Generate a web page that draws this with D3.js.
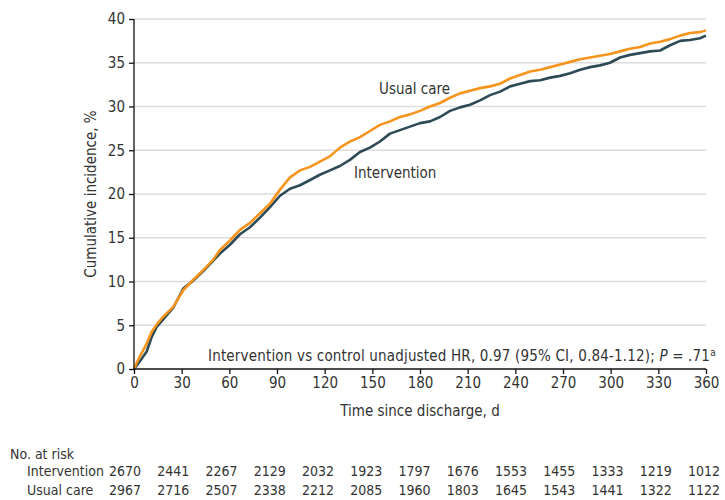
<!DOCTYPE html>
<html>
<head>
<meta charset="utf-8">
<script src="https://cdn.jsdelivr.net/npm/d3@7"></script>
<style>
  html, body { margin: 0; padding: 0; background: #fff; }
  svg { display: block; }
  text { font-family: "DejaVu Sans Condensed", "DejaVu Sans", sans-serif; fill: #333; }
</style>
</head>
<body>
<svg id="chart" width="725" height="500"></svg>
<script>
// ---- Data ----
const usualDays = [0, 3, 8, 11, 14.3, 18.5, 24.7, 31, 37.3, 43.6, 49.9, 54.1, 60.4, 66.7, 73, 79.3, 85.6, 91.9, 98.2, 104.5, 110.8, 117, 123.3, 129.6, 135.9, 142.2, 148.5, 154.8, 161.1, 167.4, 173.7, 180, 186.3, 192.6, 198.9, 205.2, 211.5, 217.8, 224.1, 230.4, 236.7, 243, 249.3, 255.6, 261.9, 268.2, 274.5, 280.8, 287.1, 293.3, 299.6, 305.9, 312.2, 318.5, 324.8, 331.1, 337.4, 343.7, 350, 356.2, 360];
const usualValues = [0, 1.2, 2.9, 4.2, 5.1, 6.0, 7.1, 9.0, 10.2, 11.3, 12.5, 13.6, 14.7, 15.9, 16.7, 17.8, 18.9, 20.5, 21.9, 22.7, 23.1, 23.7, 24.3, 25.3, 26.0, 26.5, 27.2, 27.9, 28.3, 28.8, 29.1, 29.5, 30.0, 30.4, 31.0, 31.5, 31.8, 32.1, 32.3, 32.6, 33.2, 33.6, 34.0, 34.2, 34.5, 34.8, 35.1, 35.4, 35.6, 35.8, 36.0, 36.3, 36.6, 36.8, 37.2, 37.4, 37.7, 38.1, 38.4, 38.5, 38.7];

const interDays = [0, 3, 8, 11, 14.3, 18.5, 24.7, 31, 37.3, 43.6, 49.9, 54.1, 60.4, 66.7, 73, 79.3, 85.6, 91.9, 98.2, 104.5, 110.8, 117, 123.3, 129.6, 135.9, 142.2, 148.5, 154.8, 161.1, 167.4, 173.7, 180, 186.3, 192.6, 198.9, 205.2, 211.5, 217.8, 224.1, 230.4, 236.7, 243, 249.3, 255.6, 261.9, 268.2, 274.5, 280.8, 287.1, 293.3, 299.6, 305.9, 312.2, 318.5, 324.8, 331.1, 337.4, 343.7, 350, 356.2, 360];
const interValues = [0, 0.7, 2.0, 3.6, 4.8, 5.7, 7.0, 9.2, 10.1, 11.2, 12.4, 13.2, 14.2, 15.4, 16.2, 17.3, 18.5, 19.8, 20.6, 21.0, 21.6, 22.2, 22.7, 23.2, 23.9, 24.8, 25.3, 26.0, 26.9, 27.3, 27.7, 28.1, 28.3, 28.8, 29.5, 29.9, 30.2, 30.7, 31.3, 31.7, 32.3, 32.6, 32.9, 33.0, 33.3, 33.5, 33.8, 34.2, 34.5, 34.7, 35.0, 35.6, 35.9, 36.1, 36.3, 36.4, 37.0, 37.5, 37.6, 37.8, 38.1];

const xTicks = [0, 30, 60, 90, 120, 150, 180, 210, 240, 270, 300, 330, 360];
const yTicks = [0, 5, 10, 15, 20, 25, 30, 35, 40];

const riskGroups = ["Intervention", "Usual care"];
const riskIntervention = [2670, 2441, 2267, 2129, 2032, 1923, 1797, 1676, 1553, 1455, 1333, 1219, 1012];
const riskUsual = [2967, 2716, 2507, 2338, 2212, 2085, 1960, 1803, 1645, 1543, 1441, 1322, 1122];

const seriesLabels = ["Usual care", "Intervention"];
const xTitle = "Time since discharge, d";
const yTitle = "Cumulative incidence, %";
const riskTitle = "No. at risk";

// ---- Layout ----
const svg = d3.select("#chart");
const x = d3.scaleLinear().domain([0, 360]).range([134, 706]);
const y = d3.scaleLinear().domain([0, 40]).range([369, 19]);
const orange = "#F7941D";
const teal = "#2D4B56";

// gridlines
svg.append("g").selectAll("line").data(yTicks.filter(d => d > 0)).join("line")
  .attr("x1", x(0)).attr("x2", x(360))
  .attr("y1", d => y(d)).attr("y2", d => y(d))
  .attr("stroke", "#dcdcdc").attr("stroke-width", 1.5);

// curves
const line = d3.line().x(d => x(d[0])).y(d => y(d[1])).curve(d3.curveLinear);
const interData = interDays.map((d, i) => [d, interValues[i]]);
const usualData = usualDays.map((d, i) => [d, usualValues[i]]);
svg.append("path").datum(interData).attr("d", line)
  .attr("fill", "none").attr("stroke", teal).attr("stroke-width", 2.6)
  .attr("stroke-linejoin", "round");
svg.append("path").datum(usualData).attr("d", line)
  .attr("fill", "none").attr("stroke", orange).attr("stroke-width", 2.6)
  .attr("stroke-linejoin", "round");

// axes
const yAxis = svg.append("g").attr("transform", `translate(${x(0)},0)`)
  .call(d3.axisLeft(y).tickValues(yTicks).tickSize(5).tickPadding(4));
const xAxis = svg.append("g").attr("transform", `translate(0,${y(0)})`)
  .call(d3.axisBottom(x).tickValues(xTicks).tickSize(5).tickPadding(3));
[xAxis, yAxis].forEach(g => {
  g.select(".domain").attr("stroke", "#111").attr("stroke-width", 1.3);
  g.selectAll(".tick line").attr("stroke", "#111").attr("stroke-width", 1.3);
  g.selectAll(".tick text").style("font-size", "15px").style("fill", "#333")
    .style("font-family", '"DejaVu Sans Condensed", "DejaVu Sans", sans-serif');
});
xAxis.select(".domain").attr("d", `M${x(0)},0H${x(360)}`);
yAxis.select(".domain").attr("d", `M0,${y(0)}V${y(40)}`);

// axis titles
svg.append("text").attr("x", (x(0) + x(360)) / 2).attr("y", 416)
  .attr("text-anchor", "middle").style("font-size", "15px").text(xTitle);
svg.append("text").attr("transform", `translate(96,${(y(0) + y(40)) / 2}) rotate(-90)`)
  .attr("text-anchor", "middle").style("font-size", "15px").text(yTitle);

// series labels
svg.append("text").attr("x", 379).attr("y", 94).style("font-size", "15px").text(seriesLabels[0]);
svg.append("text").attr("x", 354).attr("y", 178).style("font-size", "15px").text(seriesLabels[1]);

// annotation
const ann = svg.append("text").attr("x", 208).attr("y", 361).style("font-size", "15px")
  .style("letter-spacing", "0.18px");
ann.append("tspan").text("Intervention vs control unadjusted HR, 0.97 (95% CI, 0.84-1.12); ");
ann.append("tspan").style("font-style", "italic").text("P");
ann.append("tspan").text(" = .71");
ann.append("tspan").attr("dy", -5).style("font-size", "10px").text("a");

// risk table
const rx = d3.scaleLinear().domain([0, 360]).range([125, 704]);
svg.append("text").attr("x", 10).attr("y", 459).style("font-size", "14px").text(riskTitle);
const rows = [riskIntervention, riskUsual];
rows.forEach((vals, r) => {
  const yy = 476 + r * 19;
  svg.append("text").attr("x", 27).attr("y", yy).style("font-size", "14px").text(riskGroups[r]);
  svg.append("g").selectAll("text").data(vals).join("text")
    .attr("x", (d, i) => rx(xTicks[i])).attr("y", yy)
    .attr("text-anchor", "middle").style("font-size", "14px").text(d => d);
});
</script>
</body>
</html>
